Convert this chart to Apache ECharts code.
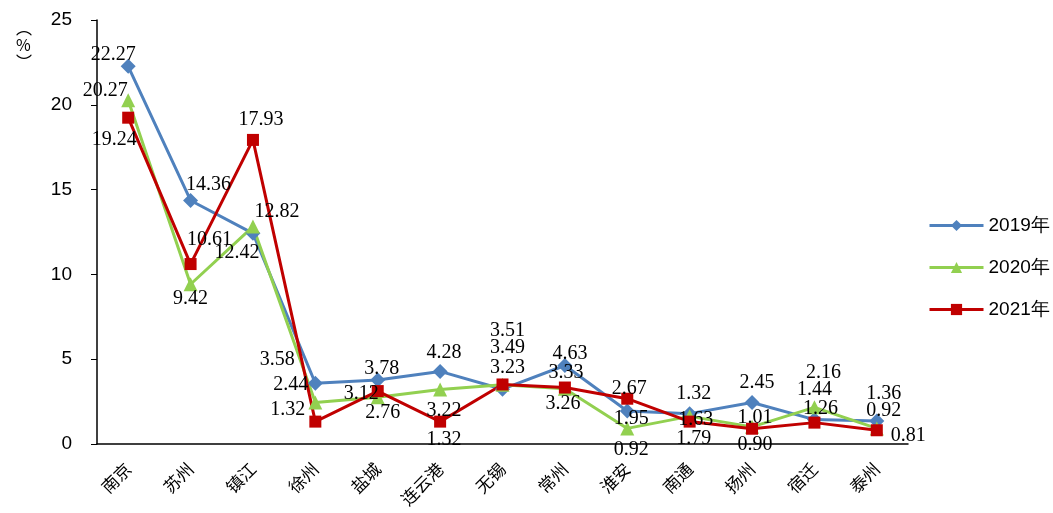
<!DOCTYPE html>
<html lang="zh">
<head>
  <meta charset="UTF-8">
  <title>各市占比</title>
  <style>
    html, body { margin: 0; padding: 0; background: #fff; }
    #myEcharts { width: 1053px; height: 513px; }
  </style>
  <script src="https://cdn.jsdelivr.net/npm/echarts@6/dist/echarts.min.js"></script>
</head>
<body>
<div id="myEcharts"></div>
<script>
  // 数据
  var cities = ['南京', '苏州', '镇江', '徐州', '盐城', '连云港', '无锡', '常州', '淮安', '南通', '扬州', '宿迁', '泰州'];
  var v2019 = [22.27, 14.36, 12.42, 3.58, 3.78, 4.28, 3.23, 4.63, 1.95, 1.79, 2.45, 1.44, 1.36];
  var v2020 = [20.27, 9.42, 12.82, 2.44, 2.76, 3.22, 3.49, 3.26, 0.92, 1.63, 1.01, 2.16, 0.92];
  var v2021 = [19.24, 10.61, 17.93, 1.32, 3.12, 1.32, 3.51, 3.33, 2.67, 1.32, 0.90, 1.26, 0.81];
  var yTicks = [0, 5, 10, 15, 20, 25];

  // 标签位置 [position, dx, dy]
  var pos2019 = [['top', -15, 10], ['top', 18, 6], ['bottom', -16, -2], ['left', -9, -24], ['top', 4, 10], ['top', 4, 3],
                 ['top', 5, 0], ['top', 5, 10], ['bottom', 4, -14], ['bottom', 4, 4], ['top', 5, 2], ['top', 0, -8], ['top', 7, -6]];
  var pos2020 = [['top', -23, 12], ['bottom', 0, -6], ['top', 24, 6], ['left', 4, -18], ['bottom', 5, -5], ['bottom', 4, 0],
                 ['top', 5, -16], ['bottom', -2, -6], ['bottom', 4, 0], ['bottom', 6, -18], ['top', 3, 12], ['top', 9, -14], ['top', 7, 3]];
  var pos2021 = [['bottom', -14, 2], ['top', 19, -4], ['top', 8, 0], ['left', 0, -12], ['left', 11, 3], ['bottom', 4, -2],
                 ['top', 5, -34], ['top', 1, 5], ['top', 2, 10], ['top', 4, -8], ['bottom', 3, -4], ['top', 6, 6], ['right', 4, 5]];

  var labelFont = { fontFamily: 'Liberation Serif', fontSize: 20, color: '#000' };

  function buildData(vals, posArr) {
    return vals.map(function (v, i) {
      return {
        value: v,
        label: Object.assign({
          show: true,
          position: posArr[i][0],
          offset: [posArr[i][1], posArr[i][2]],
          distance: 4,
          formatter: function (p) { return p.value.toFixed(2); }
        }, labelFont)
      };
    });
  }

  var myChart = echarts.init(document.getElementById('myEcharts'));
  var option = {
    animation: false,
    title: {
      text: '︵\n%\n︶',
      left: 11,
      top: 14,
      textStyle: { fontFamily: 'Noto Sans CJK SC', fontSize: 16, fontWeight: 'normal', color: '#000', lineHeight: 17 }
    },
    grid: { left: 97, right: 145, top: 20, bottom: 69 },
    legend: {
      orient: 'vertical',
      left: 923,
      top: 211,
      itemGap: 23,
      itemWidth: 54,
      itemHeight: 14,
      lineStyle: { width: 3 },
      textStyle: { fontFamily: 'Liberation Sans', fontSize: 19, color: '#000' },
      data: ['2019年', '2020年', '2021年']
    },
    xAxis: {
      type: 'category',
      data: cities,
      boundaryGap: true,
      axisLine: { lineStyle: { color: '#000', width: 1.5 } },
      axisTick: { inside: true, length: 5, lineStyle: { color: '#000' } },
      axisLabel: {
        rotate: 45,
        margin: 22,
        fontFamily: 'Noto Sans CJK SC',
        fontSize: 17,
        color: '#000',
        interval: 0
      }
    },
    yAxis: {
      type: 'value',
      min: yTicks[0],
      max: yTicks[yTicks.length - 1],
      interval: 5,
      axisLine: { show: true, lineStyle: { color: '#000', width: 1.5 } },
      axisTick: { show: true, length: 6, lineStyle: { color: '#000' } },
      splitLine: { show: false },
      axisLabel: { fontFamily: 'Liberation Sans', fontSize: 19, color: '#000', margin: 25 }
    },
    series: [
      {
        name: '2019年', type: 'line', symbol: 'diamond', symbolSize: 15,
        itemStyle: { color: '#4F81BD' }, lineStyle: { width: 3 },
        data: buildData(v2019, pos2019)
      },
      {
        name: '2020年', type: 'line', symbol: 'triangle', symbolSize: 14,
        itemStyle: { color: '#92D050' }, lineStyle: { width: 3 },
        data: buildData(v2020, pos2020)
      },
      {
        name: '2021年', type: 'line', symbol: 'rect', symbolSize: 12,
        itemStyle: { color: '#C00000' }, lineStyle: { width: 3 },
        data: buildData(v2021, pos2021)
      }
    ]
  };
  myChart.setOption(option);
</script>
</body>
</html>
